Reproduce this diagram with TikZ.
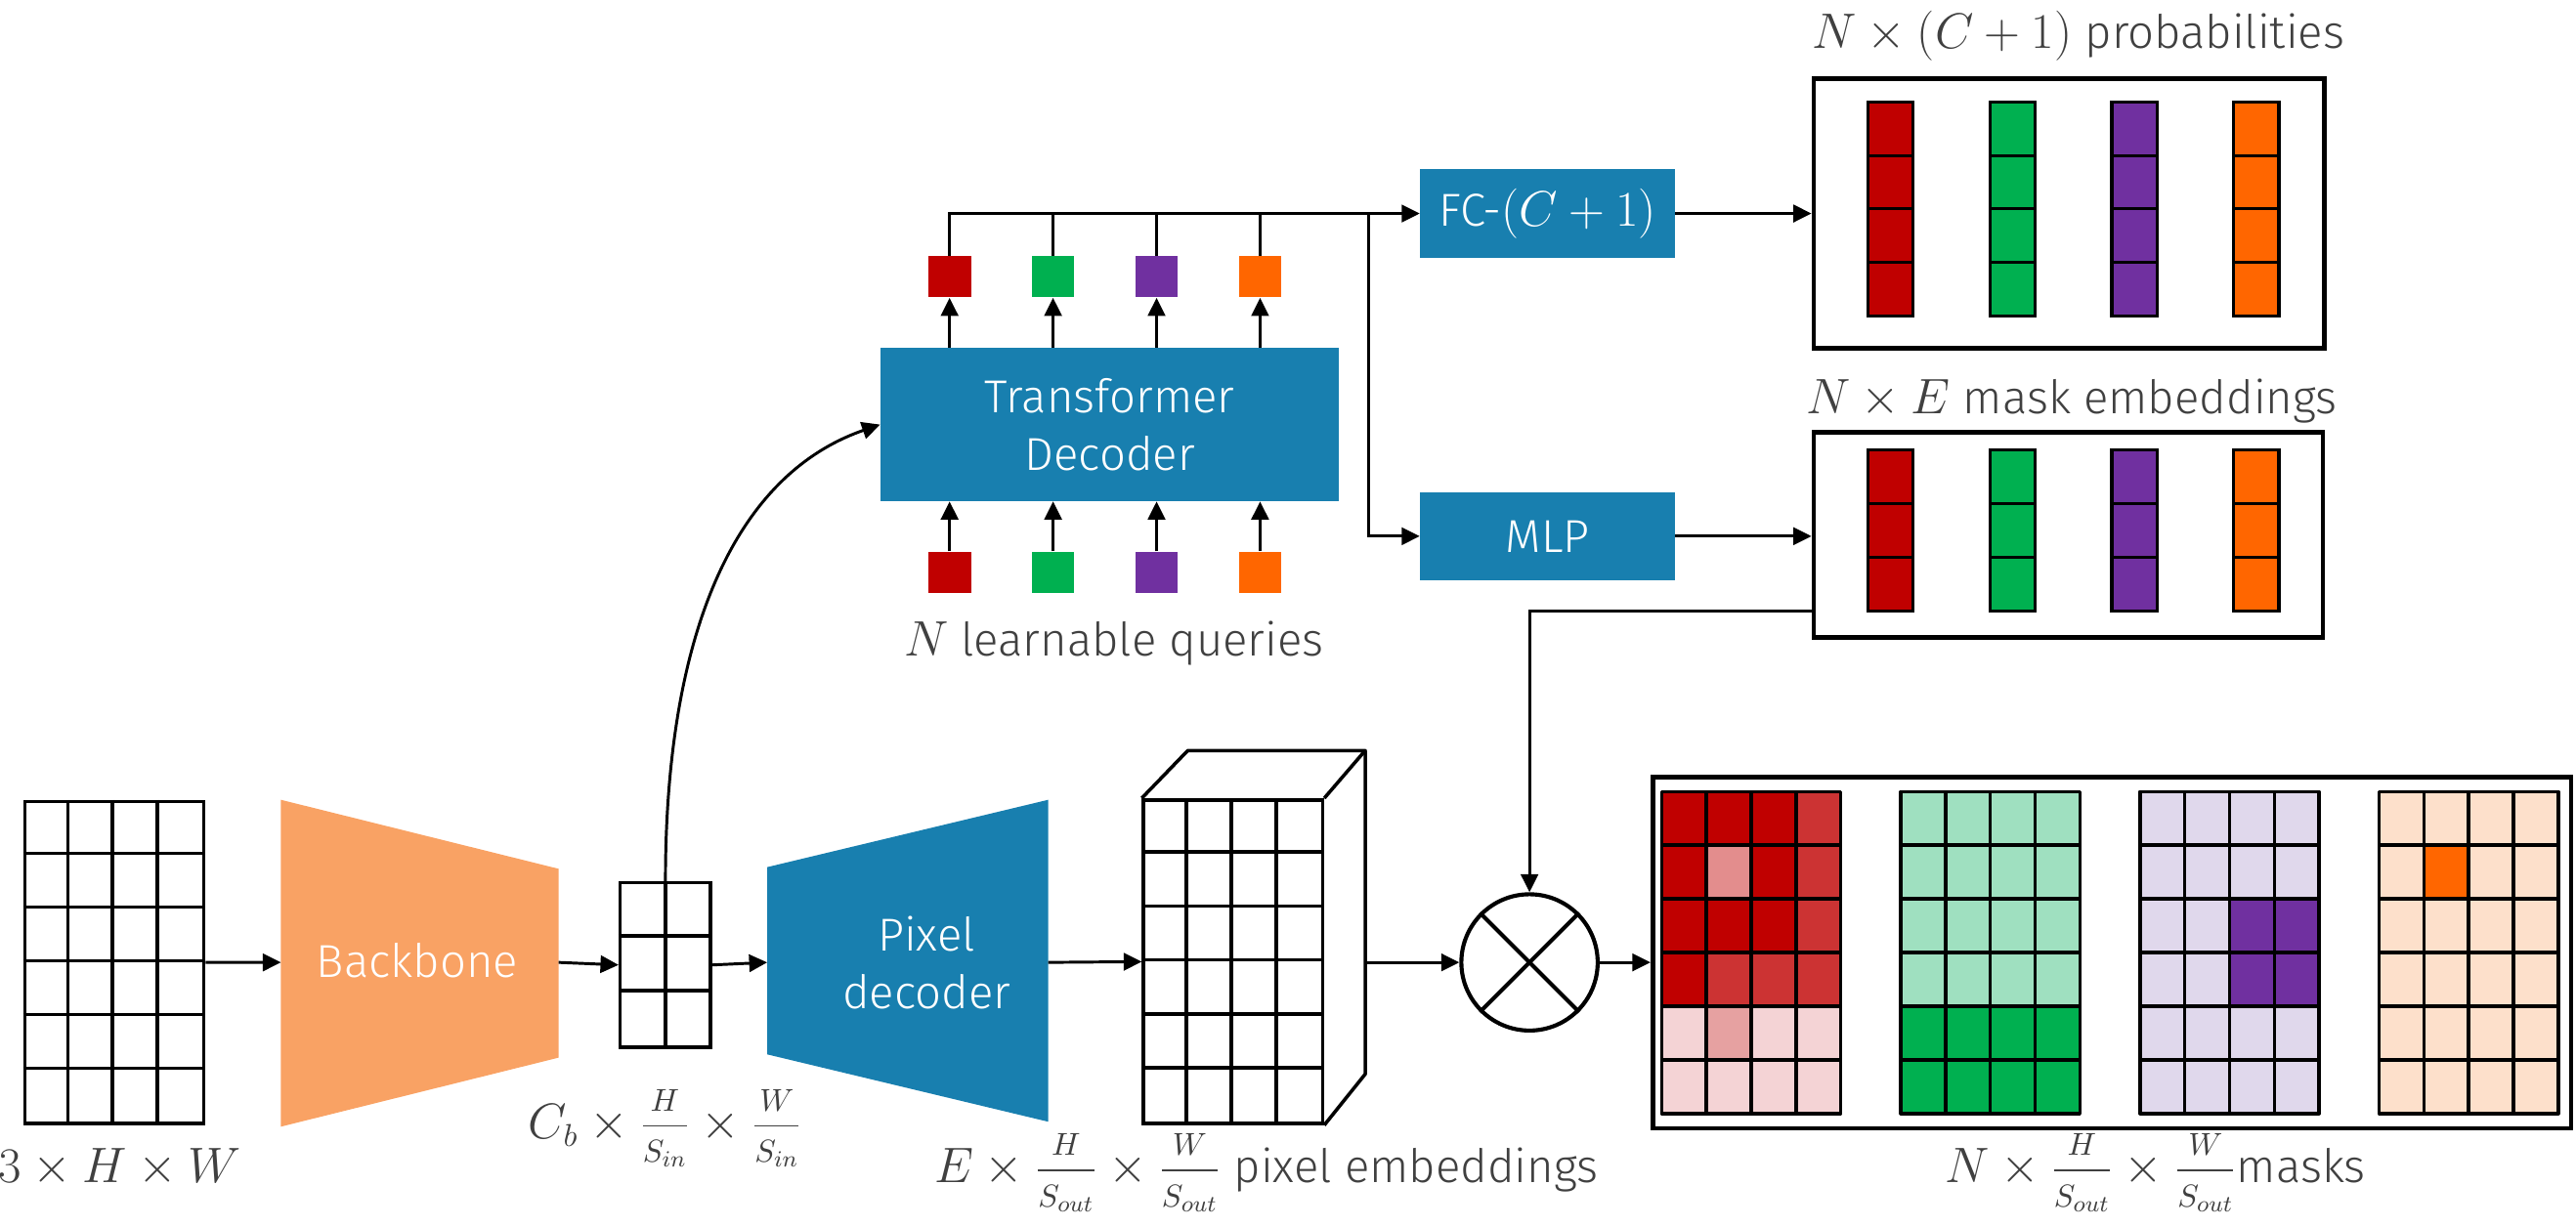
\documentclass[tikz,border=0pt]{standalone}
\usepackage{fontspec}
\setmainfont{Fira Sans Light}
\usetikzlibrary{arrows.meta}

\definecolor{qred}{HTML}{C00000}
\definecolor{qgreen}{HTML}{00B050}
\definecolor{qpurple}{HTML}{7030A0}
\definecolor{qorange}{HTML}{FF6600}
\definecolor{bbfill}{HTML}{F9A264}
\definecolor{tdblue}{HTML}{187FAF}
\definecolor{labelgray}{HTML}{404040}
\definecolor{redmid}{HTML}{CC3333}
\definecolor{redpink}{HTML}{E38D8D}
\definecolor{redsoft}{HTML}{E6A1A1}
\definecolor{redpale}{HTML}{F4D3D5}
\definecolor{greenpale}{HTML}{9FE0C0}
\definecolor{purplepale}{HTML}{E0D8EC}
\definecolor{orangepale}{HTML}{FDE0CB}

\newcommand{\dimfrac}[2]{\frac{#1\rule[-4.6pt]{0pt}{0pt}}{\rule{0pt}{12pt}#2}}

\begin{document}
\begin{tikzpicture}[x=0.02cm, y=-0.02cm,
arr/.style={line width=1pt, -{Triangle[length=0.22cm, width=0.21cm]}},
link/.style={line width=1pt},
gridline/.style={line width=1.2pt, line join=round},
outerbox/.style={draw, line width=1.6pt, inner sep=0pt},
cellbox/.style={draw, line width=1.2pt, inner sep=0pt, anchor=north west},
bluebox/.style={fill=tdblue, text=white, inner sep=0pt, align=center,
  font=\fontsize{16}{20}\selectfont},
qbox/.style={inner sep=0pt, minimum width=0.52cm, minimum height=0.5cm},
txtlabel/.style={text=labelgray, inner sep=0pt, font=\fontsize{16}{20}\selectfont}]
\useasboundingbox (0,0) rectangle (1568,747);

% image
\node[cellbox, minimum width=2.18cm, minimum height=3.92cm] (img) at (14,487) {};
\foreach \i in {1,2,3} \draw[gridline] (14+27.25*\i,487) -- (14+27.25*\i,683);
\foreach \j in {1,...,5} \draw[gridline] (14,487+32.67*\j) -- (123,487+32.67*\j);
\node[txtlabel] (imglabel) at (73,711) {$3\times H\times W$};

% backbone
\path[fill=bbfill] (171,487) -- (340,529) -- (340,644) -- (171,686) -- cycle;
\node[bluebox, fill=none] (bb) at (254,585) {Backbone};
\coordinate (bbin) at (171,586);
\coordinate (bbout) at (340,586);

% backbone features
\node[cellbox, minimum width=1.1cm, minimum height=2cm] (fm) at (376.5,536.5) {};
\draw[gridline] (fm.north) -- (fm.south);
\foreach \j in {1,2} \draw[gridline] (376.5,536.5+33.33*\j) -- (431.5,536.5+33.33*\j);
\node[txtlabel] (fmlabel) at (405,687)
  {$C_b\times\dimfrac{H}{S_{in}}\times\dimfrac{W}{S_{in}}$};

% pixel decoder
\path[fill=tdblue] (467,528) -- (638,487) -- (638,683) -- (467,642) -- cycle;
\node[bluebox, fill=none] (pd) at (564,586) {Pixel\\decoder};
\coordinate (pdin) at (467,586);
\coordinate (pdout) at (638,586);

% pixel embeddings
\node[cellbox, minimum width=2.18cm, minimum height=3.94cm] (pe) at (695,486) {};
\foreach \i in {1,2,3} \draw[gridline] (695+27.25*\i,486) -- (695+27.25*\i,683);
\foreach \j in {1,...,5} \draw[gridline] (695,486+32.83*\j) -- (804,486+32.83*\j);
\draw[gridline] (pe.north west) -- (723,457) -- (831,457) -- (pe.north east);
\draw[gridline] (831,457) -- (831,654) -- (pe.south east);
\coordinate (peout) at (831,586);
\node[txtlabel] (pelabel) at (771,714)
  {$E\times\dimfrac{H}{S_{out}}\times\dimfrac{W}{S_{out}}$ pixel embeddings};

% transformer decoder and queries
\node[bluebox, minimum width=5.58cm, minimum height=1.86cm] (td) at (675.5,258.5) {Transformer\\Decoder};
\foreach \n/\x/\col in {1/578/qred,2/641/qgreen,3/704/qpurple,4/767/qorange} {
  \node[qbox, fill=\col] (qout\n) at (\x,168.5) {};
  \node[qbox, fill=\col] (qin\n) at (\x,348.5) {};
  \draw[arr] (td.north -| qout\n) -- (qout\n.south);
  \draw[arr] (qin\n.north) -- (qin\n.north |- td.south);
}
\node[txtlabel] (qlabel) at (678,392) {$N$ learnable queries};

% heads
\node[bluebox, minimum width=3.1cm, minimum height=1.08cm] (fc) at (942,130) {FC-$(C+1)$};
\node[bluebox, minimum width=3.1cm, minimum height=1.08cm] (mlp) at (942,326.5) {MLP};
\coordinate (split) at (833,130);

% class probabilities
\node[outerbox, minimum width=6.22cm, minimum height=3.28cm] (prob) at (1259.5,130) {};
\foreach \k/\col in {0/qred,1/qgreen,2/qpurple,3/qorange} {
  \fill[\col] (1137+74.2*\k,62) rectangle ++(27.5,130.4);
  \foreach \j in {1,2,3} \draw[line width=1pt] (1137+74.2*\k,62+32.6*\j) -- ++(27.5,0);
  \draw[line width=1.1pt] (1137+74.2*\k,62) rectangle ++(27.5,130.4);
}
\node[txtlabel] (problabel) at (1265,22) {$N\times(C+1)$ probabilities};

% mask embeddings
\node[outerbox, minimum width=6.2cm, minimum height=2.5cm] (emb) at (1259,325.5) {};
\foreach \k/\col in {0/qred,1/qgreen,2/qpurple,3/qorange} {
  \fill[\col] (1137+74.2*\k,274) rectangle ++(27.5,98);
  \foreach \j in {1,2} \draw[line width=1pt] (1137+74.2*\k,274+32.67*\j) -- ++(27.5,0);
  \draw[line width=1.1pt] (1137+74.2*\k,274) rectangle ++(27.5,98);
}
\node[txtlabel] (emblabel) at (1261,244) {$N\times E$ mask embeddings};
\coordinate (embout) at (1104,372);

% product
\node[draw, circle, line width=1.4pt, minimum size=1.66cm, inner sep=0pt] (mul) at (931,586) {};
\draw[line width=1.4pt] (mul.north west) -- (mul.south east) (mul.north east) -- (mul.south west);

% masks
\node[outerbox, minimum width=11.18cm, minimum height=4.28cm] (masks) at (1285.5,580) {};
\foreach \k/\col in {0/redpale,1/greenpale,2/purplepale,3/orangepale}
  \fill[\col] (1011.4+145.6*\k,482) rectangle ++(109,196);
\fill[qred] (1011.4,482) rectangle ++(109,130.67);
\foreach \k/\c/\r/\col in {0/3/0/redmid,0/3/1/redmid,0/3/2/redmid,0/3/3/redmid,
  0/1/3/redmid,0/2/3/redmid,0/1/1/redpink,0/1/4/redsoft,
  1/0/4/qgreen,1/1/4/qgreen,1/2/4/qgreen,1/3/4/qgreen,
  1/0/5/qgreen,1/1/5/qgreen,1/2/5/qgreen,1/3/5/qgreen,
  2/2/2/qpurple,2/3/2/qpurple,2/2/3/qpurple,2/3/3/qpurple,3/1/1/qorange}
  \fill[\col] (1011.4+145.6*\k+27.25*\c,482+32.67*\r) rectangle ++(27.25,32.67);
\foreach \k in {0,...,3} {
  \foreach \i in {1,2,3} \draw[gridline] (1011.4+145.6*\k+27.25*\i,482) -- ++(0,196);
  \foreach \j in {1,...,5} \draw[gridline] (1011.4+145.6*\k,482+32.67*\j) -- ++(109,0);
  \draw[gridline] (1011.4+145.6*\k,482) rectangle ++(109,196);
}
\node[txtlabel] (maskslabel) at (1312,714)
  {$N\times\dimfrac{H}{S_{out}}\times\dimfrac{W}{S_{out}}$masks};

% connectors
\draw[arr] (img.east) -- (bbin);
\draw[arr] (bbout) -- (fm.west);
\draw[arr] (fm.east) -- (pdin);
\draw[arr] (pdout) -- (pe.west);
\draw[arr] (fm.north) .. controls (405,390) and (445,290) .. (td.west);
\draw[arr] (qout1.north) |- (fc.west);
\foreach \n in {2,3,4} \draw[link] (qout\n.north) -- (qout\n.north |- fc.west);
\draw[arr] (split) |- (mlp.west);
\draw[arr] (fc.east) -- (prob.west);
\draw[arr] (mlp.east) -- (mlp.east -| emb.west);
\draw[arr] (embout) -| (mul.north);
\draw[arr] (peout) -- (mul.west);
\draw[arr] (mul.east) -- (mul.east -| masks.west);
\end{tikzpicture}
\end{document}
